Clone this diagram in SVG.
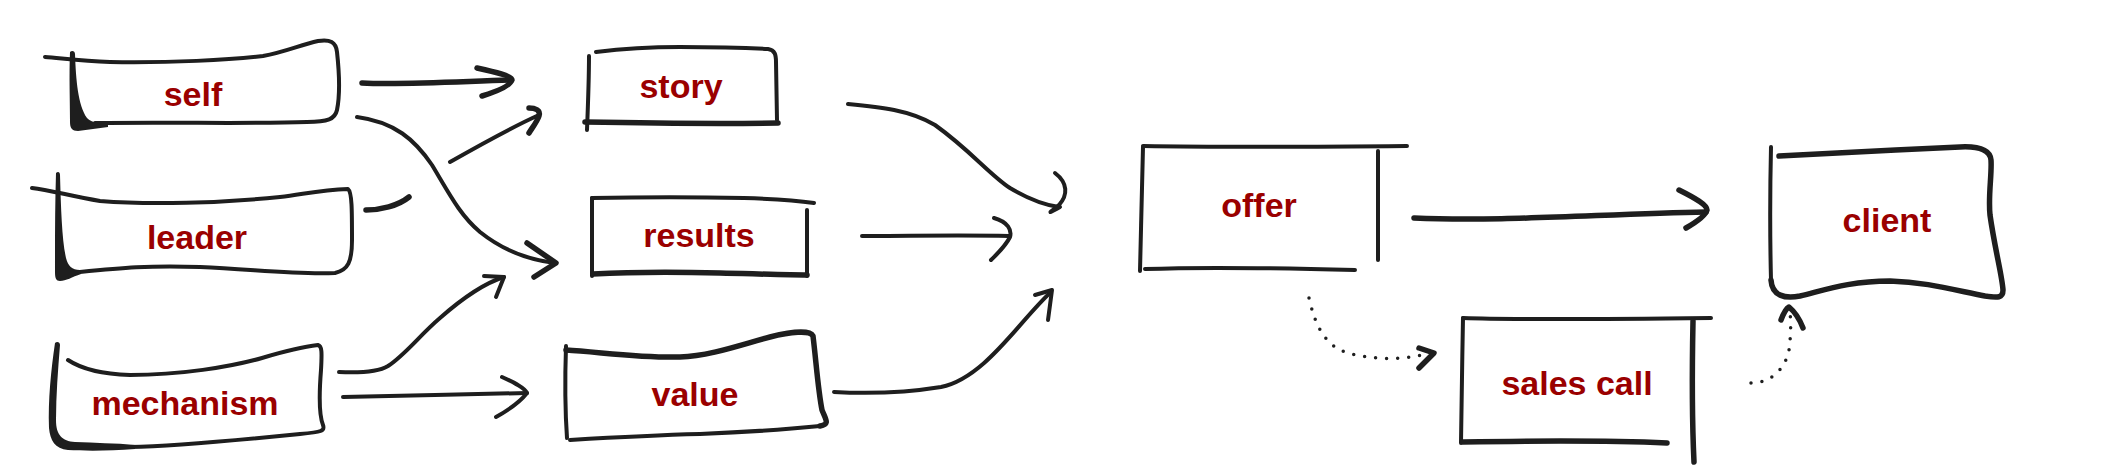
<svg xmlns="http://www.w3.org/2000/svg" width="2125" height="468" viewBox="0 0 2125 468">
<defs>
<style>
.s{fill:none;stroke:#1e1e1e;stroke-width:4;stroke-linecap:round;stroke-linejoin:round}
.t{stroke-width:5.5}
.f{fill:#1e1e1e;stroke:none}
.d{fill:none;stroke:#1e1e1e;stroke-width:3.5;stroke-linecap:round;stroke-dasharray:0 11}
.lbl{font-family:"Liberation Sans",Arial,sans-serif;font-weight:bold;font-size:34px;fill:#9a0000;text-anchor:middle}
</style>
</defs>
<rect width="2125" height="468" fill="#ffffff"/>

<g id="node-self">
<path class="s" d="M45,57 C60,58 80,61 110,62 C170,63 230,60 263,56 C285,52 300,45 318,41 C330,39 336,42 337,52 C339,70 340,95 337,110 C335,119 328,122 307,122 C250,124 180,122 95,123"/>
<path class="f" d="M70,52 C72,50 75,51 75,54 C76,80 78,105 87,118 C92,123 100,124 108,124 L108,127 C98,128 88,130 78,131 C72,131 70,128 70,122 C70,100 69,75 70,52 Z"/>
<text class="lbl" x="193" y="106">self</text>
</g>

<g id="node-leader">
<path class="s" d="M32,188 C50,190 70,196 100,201 C150,205 220,203 280,197 C305,194 320,190 348,189 C352,192 352,210 352,240 C352,262 348,270 335,273 C300,275 260,270 200,267 C150,265 120,268 80,272"/>
<path class="f" d="M56,173 C58,171 60,172 60,175 C61,210 62,240 66,258 C68,266 72,270 80,270 L81,274 C72,277 66,281 60,281 C56,281 55,278 55,272 C55,240 55,205 56,173 Z"/>
<text class="lbl" x="197" y="249">leader</text>
</g>

<g id="node-mechanism">
<path class="s" d="M68,360 C80,368 100,374 130,375 C180,375 230,367 262,358 C285,351 300,347 318,345 C322,346 322,352 321,370 C319,395 319,415 323,425 C325,431 322,432 300,434 C240,440 180,446 130,447"/>
<path class="f" d="M55,343 C57,341 60,342 60,345 C58,370 56,395 56,420 C56,435 62,441 75,442 C95,443 115,443 135,445 L135,449 C110,451 85,451 68,450 C55,449 50,440 49,428 C48,400 51,370 55,343 Z"/>
<text class="lbl" x="185" y="415">mechanism</text>
</g>

<g id="node-story">
<path class="s" d="M589,56 C589,80 588,105 587,130"/>
<path class="s" d="M596,52 C620,49 650,47 680,47 C720,47 750,48 768,49 C775,50 776,55 776,62 L777,120"/>
<path class="s t" d="M585,122 C640,123 710,124 778,123"/>
<text class="lbl" x="681" y="98">story</text>
</g>

<g id="node-results">
<path class="s" d="M592,198 L592,276"/>
<path class="s" d="M592,198 C640,197 700,197 744,198 C775,199 800,201 814,203"/>
<path class="s" d="M807,210 L807,276"/>
<path class="s t" d="M593,274 C630,272 680,272 720,273 C760,274 790,275 807,275"/>
<text class="lbl" x="699" y="247">results</text>
</g>

<g id="node-value">
<path class="s" d="M566,346 C565,375 565,410 567,438"/>
<path class="s t" d="M566,350 C600,352 640,358 680,357 C710,356 740,345 770,337 C790,332 810,330 813,336 C816,360 818,390 822,410 C826,420 830,424 820,426"/>
<path class="s" d="M570,440 C620,437 660,435 700,434 C750,432 790,429 820,426"/>
<text class="lbl" x="695" y="406">value</text>
</g>

<g id="node-offer">
<path class="s" d="M1143,147 C1142,185 1141,230 1140,271"/>
<path class="s" d="M1143,146 C1200,147 1300,147 1407,146"/>
<path class="s" d="M1378,151 L1378,260"/>
<path class="s" d="M1145,269 C1200,267 1280,268 1355,270"/>
<text class="lbl" x="1259" y="217">offer</text>
</g>

<g id="node-sales-call">
<path class="s" d="M1463,318 C1462,360 1462,405 1461,443"/>
<path class="s" d="M1463,318 C1520,320 1620,319 1711,318"/>
<path class="s t" d="M1693,321 C1692,370 1692,420 1694,462"/>
<path class="s t" d="M1463,442 C1520,441 1600,440 1667,443"/>
<text class="lbl" x="1577" y="395">sales call</text>
</g>

<g id="node-client">
<path class="s" d="M1771,147 C1770,190 1770,240 1771,280"/>
<path class="s t" d="M1779,156 C1830,153 1900,150 1960,147 C1980,146 1990,150 1991,160 C1992,175 1988,195 1990,215 C1995,250 2002,275 2003,290 C2003,298 1998,298 1985,296 C1950,289 1925,282 1890,281 C1850,281 1825,290 1800,296 C1785,299 1772,296 1771,280"/>
<text class="lbl" x="1887" y="232">client</text>
</g>

<g id="connectors">
<path class="s t" d="M362,83 C400,85 450,82 511,80"/>
<path class="s t" d="M477,68 C495,72 512,76 512,80 C510,86 495,92 482,96"/>

<path class="s t" d="M366,210 C380,210 398,206 409,197"/>
<path class="s" d="M450,162 C480,145 510,128 539,115"/>
<path class="s t" d="M529,108 C535,108 541,110 539,116 C537,122 532,128 529,133"/>

<path class="s" d="M357,117 C395,122 415,140 432,165 C450,195 460,215 480,232 C505,252 530,260 555,263"/>
<path class="s t" d="M527,243 L556,263 L534,277"/>

<path class="s" d="M339,372 C360,373 378,372 388,366 C405,355 420,335 440,318 C465,296 485,283 504,277"/>
<path class="s" d="M484,276 L504,277 L496,297"/>

<path class="s" d="M343,397 C400,396 470,394 527,393"/>
<path class="s" d="M502,377 C515,383 525,388 527,393 C520,402 505,412 496,417"/>

<path class="s" d="M848,104 C880,107 910,110 935,125 C970,150 990,175 1010,188 C1030,200 1045,205 1059,207"/>
<path class="s" d="M1055,173 C1068,183 1068,195 1059,205 C1050,213 1045,215 1060,207"/>

<path class="s" d="M862,236 C910,236 960,235 1009,236"/>
<path class="s" d="M994,218 C1008,222 1012,230 1010,237 C1005,247 996,255 991,260"/>

<path class="s" d="M834,392 C870,394 910,392 941,387 C985,378 1020,320 1051,292"/>
<path class="s" d="M1035,295 L1052,290 L1048,320"/>

<path class="s t" d="M1414,218 C1500,222 1600,214 1706,212"/>
<path class="s t" d="M1679,190 C1695,198 1707,205 1707,210 C1705,217 1693,224 1686,228"/>

<path class="d" d="M1309,298 C1315,325 1325,345 1345,352 C1370,360 1400,360 1422,355"/>
<path class="s t" d="M1419,348 L1434,353 L1419,368"/>

<path class="d" d="M1751,383 C1770,383 1785,370 1789,350 C1791,335 1791,322 1790,312"/>
<path class="s t" d="M1781,320 C1784,312 1787,308 1789,307 C1795,312 1800,320 1803,328"/>
</g>
</svg>
